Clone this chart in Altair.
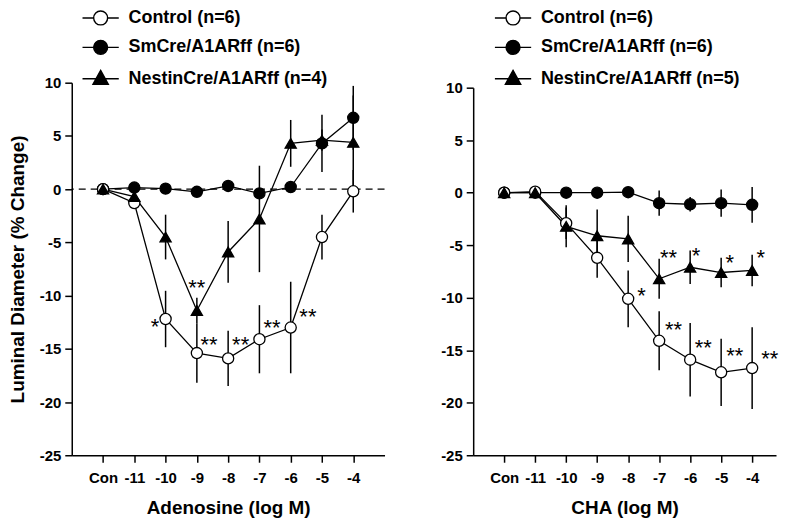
import altair as alt
import pandas as pd

FONT = "Liberation Sans"

tick_labels = ["Con", "-11", "-10", "-9", "-8", "-7", "-6", "-5", "-4"]
series = ["Control", "SmCre/A1ARff", "NestinCre/A1ARff"]

# ---- Adenosine panel (left) ----
ado_labels = ["Control (n=6)", "SmCre/A1ARff (n=6)", "NestinCre/A1ARff (n=4)"]
ado_control_mean = [0, -1.3, -12.2, -15.4, -15.9, -14.1, -13.0, -4.5, -0.2]
ado_control_se = [0, 0.3, 2.65, 2.8, 2.6, 3.2, 4.3, 2.1, 2.0]
ado_sm_mean = [0, 0.15, 0.05, -0.25, 0.3, -0.4, 0.2, 4.3, 6.7]
ado_sm_se = [0, 0.2, 0.2, 0.3, 0.3, 0.4, 0.4, 2.7, 3.0]
ado_nestin_mean = [0, -0.7, -4.5, -11.4, -5.9, -2.8, 4.3, 4.6, 4.4]
ado_nestin_se = [0, 0.3, 2.1, 1.2, 2.9, 5.0, 2.2, 1.0, 4.4]
ado_ann_x = [1.66, 3.0, 3.39, 4.4, 5.4, 6.55]
ado_ann_y = [-12.5, -8.8, -14.2, -14.2, -12.6, -11.5]
ado_ann_t = ["*", "**", "**", "**", "**", "**"]

# ---- CHA panel (right) ----
cha_labels = ["Control (n=6)", "SmCre/A1ARff (n=6)", "NestinCre/A1ARff (n=5)"]
cha_control_mean = [0, 0.1, -2.9, -6.2, -10.1, -14.1, -15.9, -17.1, -16.7]
cha_control_se = [0, 0.3, 1.5, 1.9, 2.7, 2.8, 3.5, 3.2, 3.9]
cha_sm_mean = [0, 0.0, 0.0, 0.0, 0.05, -1.0, -1.1, -1.0, -1.15]
cha_sm_se = [0, 0.2, 0.2, 0.2, 0.2, 1.2, 0.7, 1.3, 1.7]
cha_nestin_mean = [0, 0.0, -3.2, -4.1, -4.4, -8.2, -7.1, -7.6, -7.4]
cha_nestin_se = [0, 0.2, 2.0, 2.5, 2.2, 1.9, 1.6, 1.4, 1.5]
cha_ann_x = [4.43, 5.46, 6.42, 7.44, 8.57, 5.3, 6.19, 7.28, 8.28]
cha_ann_y = [-9.4, -12.6, -14.3, -15.1, -15.4, -5.7, -5.6, -6.2, -5.7]
cha_ann_t = ["*", "**", "**", "**", "**", "**", "*", "*", "*"]

label_expr = "[" + ",".join("'%s'" % t for t in tick_labels) + "][datum.value]"

# legend symbols: connecting line through the marker
path_circle = "M-2.6,0L-1,0M1,0L2.6,0M-1,0A1,1,0,1,1,1,0A1,1,0,1,1,-1,0Z"
path_tri = "M-2.6,0L2.6,0M0,-1.2L1.1,0.8L-1.1,0.8Z"


def build_df(labels, means, ses):
    rows = []
    order = [1, 0, 2]  # draw Sm, Control, Nestin (Nestin on top)
    for k in order:
        for i in range(len(tick_labels)):
            m, s = means[k][i], ses[k][i]
            rows.append({"series": series[k], "label": labels[k], "xi": i,
                         "mean": m, "lo": m - s, "hi": m + s})
    return pd.DataFrame(rows)


def panel(df, labels, ann_x, ann_y, ann_t, dashed, y_title, x_title,
          legend_x, legend_y, width, height, x_max, y_top):
    xaxis = alt.Axis(values=list(range(9)), labelExpr=label_expr, title=x_title)
    yaxis = alt.Axis(values=list(range(-25, 11, 5)), labelExpr="'' + datum.value",
                     title=y_title)
    xs = alt.Scale(domain=[-1, x_max], nice=False, zero=False)
    ys = alt.Scale(domain=[-25, 10], nice=False, zero=False, range=[height, y_top])
    X = alt.X("xi:Q", scale=xs, axis=xaxis)
    base = alt.Chart(df)

    layers = []
    if dashed:
        layers.append(
            alt.Chart(pd.DataFrame({"z": [0]})).mark_rule(
                color="black", strokeWidth=1.3, strokeDash=[7, 5]
            ).encode(y=alt.Y("z:Q", scale=ys, axis=yaxis))
        )
    layers.append(
        base.mark_rule(color="black", strokeWidth=1.5).encode(
            x=X, y=alt.Y("lo:Q", scale=ys, axis=yaxis), y2="hi:Q")
    )
    layers.append(
        base.mark_line(color="black", strokeWidth=1.3).encode(
            x=X, y=alt.Y("mean:Q", scale=ys, axis=yaxis), detail="series:N")
    )
    layers.append(
        base.mark_point(filled=True, size=125, stroke="black", strokeWidth=1.3, opacity=1).encode(
            x=X, y=alt.Y("mean:Q", scale=ys, axis=yaxis),
            shape=alt.Shape("series:N", scale=alt.Scale(
                domain=series, range=["circle", "circle", "triangle-up"]), legend=None),
            fill=alt.Fill("series:N", scale=alt.Scale(
                domain=series, range=["white", "black", "black"]), legend=None),
        )
    )
    leg = alt.Legend(orient="none", legendX=legend_x, legendY=legend_y, title=None,
                     symbolOpacity=1, symbolStrokeWidth=1.4)
    layers.append(
        base.mark_point(filled=True, opacity=0, strokeWidth=1.4).encode(
            x=X, y=alt.Y("mean:Q", scale=ys, axis=yaxis),
            shape=alt.Shape("label:N", scale=alt.Scale(
                domain=labels, range=[path_circle, path_circle, path_tri]), legend=leg),
            fill=alt.Fill("label:N", scale=alt.Scale(
                domain=labels, range=["white", "black", "black"]), legend=leg),
            stroke=alt.Stroke("label:N", scale=alt.Scale(
                domain=labels, range=["black", "black", "black"]), legend=leg),
        )
    )
    ann = pd.DataFrame({"xi": ann_x, "y": ann_y, "t": ann_t})
    layers.append(
        alt.Chart(ann).mark_text(font=FONT, fontSize=22, dy=5, color="black").encode(
            x=X, y=alt.Y("y:Q", scale=ys, axis=yaxis), text="t:N")
    )
    return alt.layer(*layers).resolve_scale(
        shape="independent", fill="independent", stroke="independent"
    ).properties(width=width, height=height)


ado_df = build_df(ado_labels,
                  [ado_control_mean, ado_sm_mean, ado_nestin_mean],
                  [ado_control_se, ado_sm_se, ado_nestin_se])
cha_df = build_df(cha_labels,
                  [cha_control_mean, cha_sm_mean, cha_nestin_mean],
                  [cha_control_se, cha_sm_se, cha_nestin_se])

left = panel(ado_df, ado_labels, ado_ann_x, ado_ann_y, ado_ann_t, True,
             "Luminal Diameter (% Change)", "Adenosine (log M)", 20, -74, 314, 374, 9, 0)
right = panel(cha_df, cha_labels, cha_ann_x, cha_ann_y, cha_ann_t, False,
              None, "CHA (log M)", 31, -74, 304, 374, 8.77, 5)

chart = alt.hconcat(left, right, spacing=55).resolve_scale(
    shape="independent", fill="independent", stroke="independent"
).properties(
    padding={"left": 0, "top": 0, "right": 0, "bottom": 0}
).configure_view(stroke=None).configure_axis(
    grid=False, domainColor="black", tickColor="black", labelColor="black",
    titleColor="black", domainWidth=1.5, tickWidth=1.5, tickSize=7,
    labelFont=FONT, labelFontSize=15, labelFontWeight="bold",
    titleFont=FONT, titleFontSize=19, titleFontWeight="bold",
).configure_axisX(labelPadding=8, titlePadding=13).configure_axisY(
    labelPadding=4, titlePadding=12
).configure_legend(
    labelFont=FONT, labelFontSize=18, labelFontWeight="bold", labelColor="black",
    symbolSize=196, labelOffset=19, rowPadding=9.5, padding=0, labelLimit=400,
)

chart.save("out.html", embed_options={"renderer": "svg", "actions": False})
